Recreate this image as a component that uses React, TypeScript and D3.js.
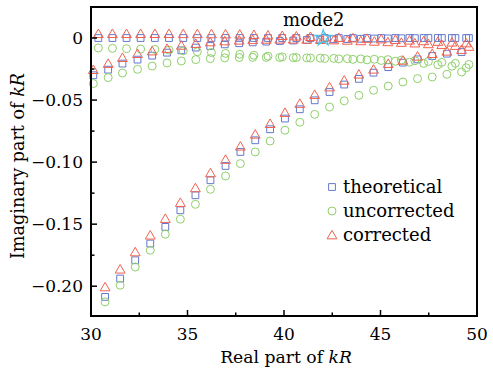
import * as d3 from "d3";

// branch A (top row, theoretical at 0)
const xA = [30.38, 31.11, 31.84, 32.57, 33.31, 34.04, 34.78, 35.51, 36.24, 36.97, 37.71, 38.44, 39.17, 39.91, 40.64, 41.37, 42.11, 42.84, 43.57, 44.3, 45.04, 45.77, 46.5, 47.24, 47.97, 48.7, 49.44];
const theoA = [0, 0, 0, 0, 0, 0, 0, 0, 0, 0, 0, 0, 0, 0, 0, 0, 0, 0, 0, 0, 0, 0, 0, 0, 0, 0, 0];
const uncorA = [-0.008, -0.0083, -0.0086, -0.0089, -0.0092, -0.0097, -0.0103, -0.011, -0.0117, -0.0124, -0.0131, -0.0139, -0.0146, -0.0152, -0.0157, -0.0161, -0.0165, -0.0168, -0.0172, -0.0176, -0.0181, -0.0187, -0.0195, -0.0204, -0.0215, -0.0227, -0.024];
const corA = [0.0035, 0.0035, 0.0035, 0.0035, 0.0035, 0.0035, 0.0034, 0.0034, 0.0033, 0.0032, 0.003, 0.0027, 0.0023, 0.0019, 0.0015, 0.0011, 0.0007, 0.0003, 0, -0.0004, -0.0008, -0.0013, -0.0018, -0.0023, -0.0028, -0.0034, -0.004];

// branch B (rising from -0.03 to the top row)
const xB = [30.12, 30.89, 31.63, 32.41, 33.17, 33.94, 34.68, 35.43, 36.18, 36.93, 37.68, 38.38, 39.08, 39.78, 40.48, 41.18, 41.88, 42.58, 43.28, 43.98, 44.68, 45.38, 46.08, 46.78, 47.48, 48.18, 48.88, 49.58];
const theoB = [-0.03, -0.0255, -0.0206, -0.0174, -0.0142, -0.0118, -0.0099, -0.0077, -0.0064, -0.0051, -0.0042, -0.0035, -0.0029, -0.0024, -0.002, -0.0016, -0.0013, -0.001, -0.0008, -0.0006, -0.0004, -0.0003, -0.0002, -0.0001, 0, 0, 0, 0];
const uncorB = [-0.0367, -0.0319, -0.0282, -0.0252, -0.0226, -0.0201, -0.0185, -0.0174, -0.0166, -0.016, -0.0157, -0.0156, -0.0156, -0.0157, -0.0158, -0.016, -0.0162, -0.0164, -0.0166, -0.0168, -0.0171, -0.0174, -0.0178, -0.0183, -0.0189, -0.0196, -0.0204, -0.0213];
const corB = [-0.0255, -0.0206, -0.0158, -0.0126, -0.0105, -0.0085, -0.0059, -0.0045, -0.0032, -0.0024, -0.0018, -0.0014, -0.0011, -0.001, -0.001, -0.0011, -0.0013, -0.0016, -0.0019, -0.0023, -0.0027, -0.0031, -0.0036, -0.0041, -0.0047, -0.0054, -0.0061, -0.0068];

// branch C (steep one from -0.21)
const xC = [30.73, 31.51, 32.29, 33.07, 33.85, 34.63, 35.41, 36.19, 36.97, 37.74, 38.51, 39.28, 40.05, 40.82, 41.59, 42.36, 43.12, 43.88, 44.64, 45.4, 46.16, 46.92, 47.68, 48.44, 49.2];
const theoC = [-0.2086, -0.1938, -0.1791, -0.1656, -0.1522, -0.1388, -0.1267, -0.1146, -0.1031, -0.0918, -0.0824, -0.0735, -0.0649, -0.0574, -0.0502, -0.0435, -0.0375, -0.0329, -0.0279, -0.0234, -0.0198, -0.0172, -0.0145, -0.0126, -0.0113];
const uncorC = [-0.2126, -0.1992, -0.1845, -0.171, -0.1581, -0.146, -0.134, -0.1219, -0.1112, -0.1012, -0.0918, -0.083, -0.0743, -0.0679, -0.0615, -0.0556, -0.0506, -0.0462, -0.0421, -0.0387, -0.0354, -0.0327, -0.0314, -0.0292, -0.0274];
const corC = [-0.2006, -0.1863, -0.1724, -0.1589, -0.1455, -0.1326, -0.1208, -0.1087, -0.0979, -0.0872, -0.0776, -0.069, -0.0601, -0.0528, -0.0456, -0.0395, -0.0341, -0.0292, -0.0252, -0.0206, -0.018, -0.0147, -0.0126, -0.0107, -0.0093];

const starPoint = { x: 42.03, y: 0 };

const xTicks = [30, 35, 40, 45, 50];
const xMinor = [32.5, 37.5, 42.5, 47.5];
const yTicks = [0, -0.05, -0.1, -0.15, -0.2];
const yTickLabels = ["0", "\u22120.05", "\u22120.10", "\u22120.15", "\u22120.20"];
const yMinor = [-0.025, -0.075, -0.125, -0.175];

const legendItems = [
  { key: "theo", label: "theoretical" },
  { key: "uncor", label: "uncorrected" },
  { key: "cor", label: "corrected" },
];

const colors: Record<string, string> = { theo: "#6479cc", uncor: "#8fd06a", cor: "#f2614f" };

const zip = (xs: number[], ys: number[]) => xs.map((x, i) => ({ x, y: ys[i] }));

export default function App() {
  const width = 493;
  const height = 372;
  const margin = { top: 7, right: 16, bottom: 56, left: 91 };
  const x = d3.scaleLinear().domain([30, 50]).range([margin.left, width - margin.right]);
  const y = d3.scaleLinear().domain([-0.224, 0.025]).range([height - margin.bottom, margin.top]);
  const font = "'DejaVu Serif', serif";

  const sq = d3.symbol(d3.symbolSquare, 46)()!;
  const circ = d3.symbol(d3.symbolCircle, 50)()!;
  const tri = d3.symbol(d3.symbolTriangle, 42)()!;
  const star = d3.symbol(d3.symbolStar, 80)()!;
  const paths: Record<string, string> = { theo: sq, uncor: circ, cor: tri };

  const series = [
    { key: "theo", pts: [...zip(xA, theoA), ...zip(xB, theoB), ...zip(xC, theoC)] },
    { key: "uncor", pts: [...zip(xA, uncorA), ...zip(xB, uncorB), ...zip(xC, uncorC)] },
    { key: "cor", pts: [...zip(xA, corA), ...zip(xB, corB), ...zip(xC, corC)] },
  ];

  const x0 = margin.left;
  const x1 = width - margin.right;
  const y0 = height - margin.bottom;
  const y1 = margin.top;

  return (
    <svg width={width} height={height} style={{ position: "absolute", left: 0, top: 0, background: "#fff" }}>
      {series.map((s) => (
        <g key={s.key}>
          {s.pts.map((p, i) => (
            <path
              key={i}
              d={paths[s.key]}
              transform={`translate(${x(p.x)},${y(p.y) + (s.key === "cor" ? 1 : 0)})`}
              fill="none"
              stroke={colors[s.key]}
              strokeWidth={1}
            />
          ))}
        </g>
      ))}
      <path d={star} transform={`translate(${x(starPoint.x)},${y(starPoint.y)})`} fill="none" stroke="#4cc3e6" strokeWidth={1.2} />

      {/* ticks, pointing inward */}
      {xTicks.map((t) => (
        <g key={t}>
          <line x1={x(t)} x2={x(t)} y1={y0} y2={y0 - 6} stroke="#000" strokeWidth={1.5} />
          <text x={x(t)} y={y0 + 24} textAnchor="middle" fontSize={17} fontFamily={font}>{t}</text>
        </g>
      ))}
      {xMinor.map((t) => (
        <line key={t} x1={x(t)} x2={x(t)} y1={y0} y2={y0 - 3.5} stroke="#000" strokeWidth={1.5} />
      ))}
      {yTicks.map((t, i) => (
        <g key={t}>
          <line x1={x0} x2={x0 + 6} y1={y(t)} y2={y(t)} stroke="#000" strokeWidth={1.5} />
          <text x={x0 - 8} y={y(t)} dy="0.35em" textAnchor="end" fontSize={17} fontFamily={font}>{yTickLabels[i]}</text>
        </g>
      ))}
      {yMinor.map((t) => (
        <line key={t} x1={x0} x2={x0 + 3.5} y1={y(t)} y2={y(t)} stroke="#000" strokeWidth={1.5} />
      ))}
      <rect x={x0} y={y1} width={x1 - x0} height={y0 - y1} fill="none" stroke="#000" strokeWidth={2} />

      <text x={(x0 + x1) / 2 + 2} y={363} textAnchor="middle" fontSize={17.2} fontFamily={font}>
        Real part of <tspan fontStyle="italic">kR</tspan>
      </text>
      <text transform={`translate(24,166) rotate(-90)`} textAnchor="middle" fontSize={17.6} fontFamily={font}>
        Imaginary part of <tspan fontStyle="italic">kR</tspan>
      </text>
      <text x={283} y={26} fontSize={18} fontFamily={font}>mode2</text>

      {legendItems.map((item, i) => (
        <g key={item.key} transform={`translate(332,${187 + i * 24})`}>
          <path d={paths[item.key]} fill="none" stroke={colors[item.key]} strokeWidth={1} transform={item.key === "cor" ? "translate(0,1)" : ""} />
          <text x={11} y={0} dy="0.32em" fontSize={18} fontFamily={font}>{item.label}</text>
        </g>
      ))}
    </svg>
  );
}
